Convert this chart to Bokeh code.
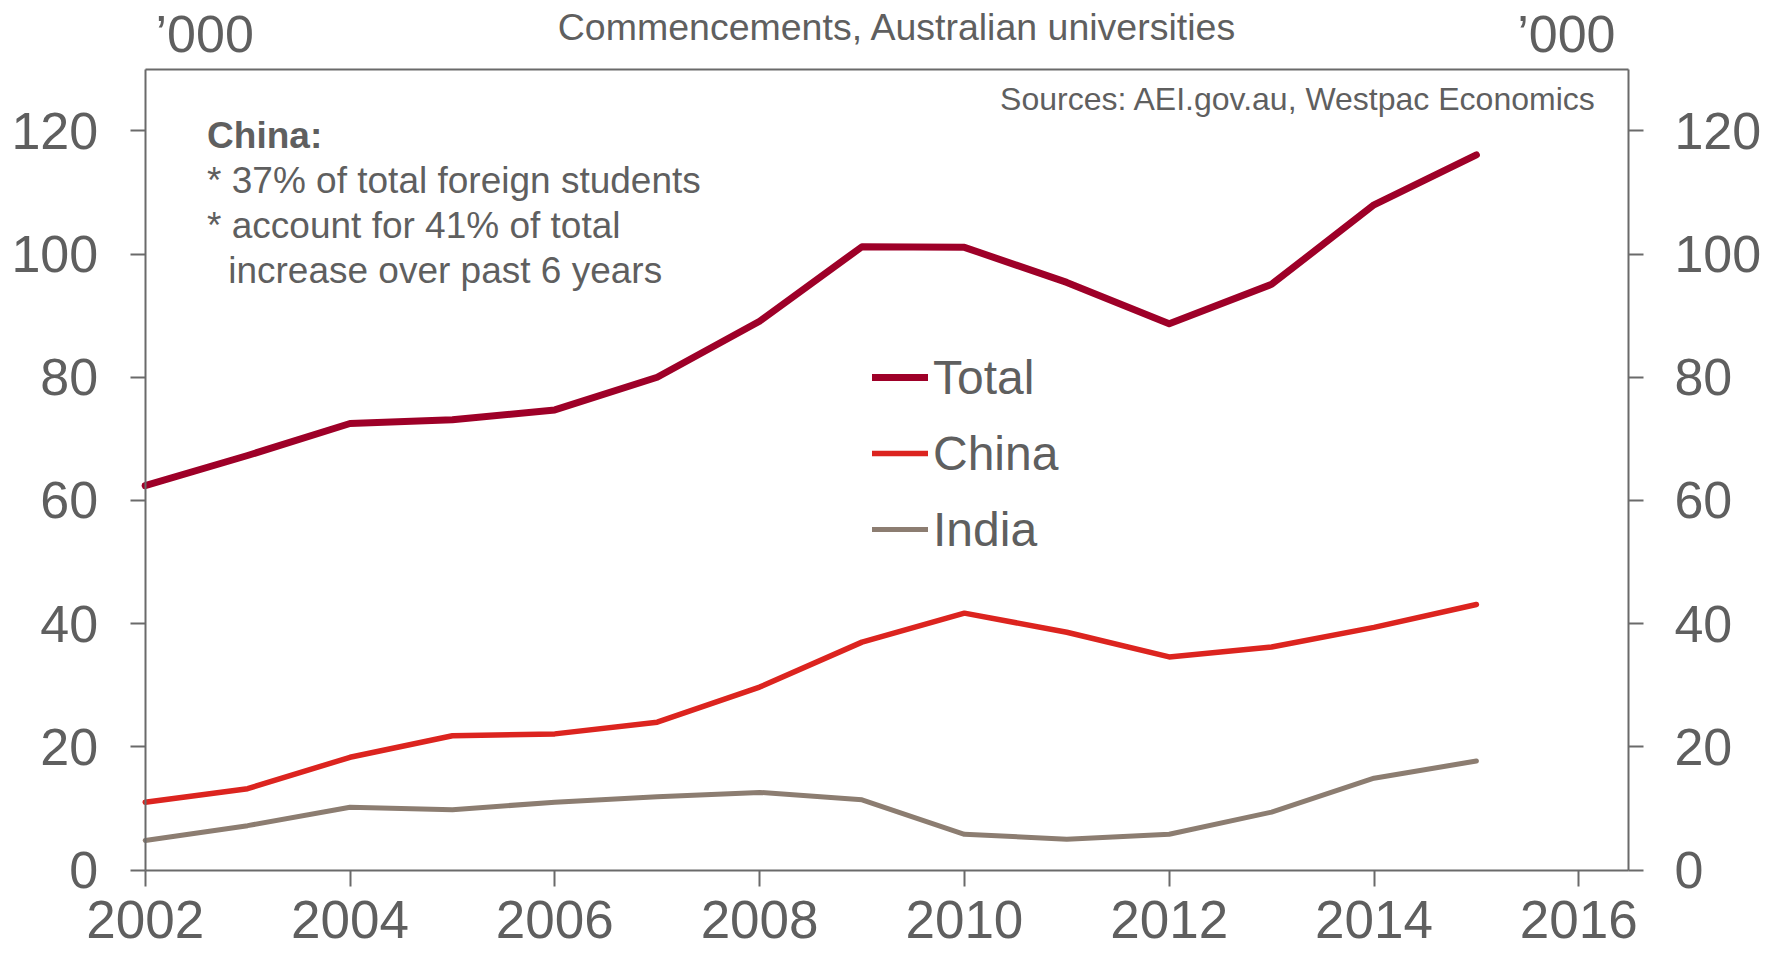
from bokeh.plotting import figure
from bokeh.models import Range1d, LinearAxis, FixedTicker, Label, Legend, LegendItem, ColumnDataSource
from bokeh.embed import file_html
from bokeh.resources import INLINE

# ---- data (thousands of commencements) ----
years = [2002, 2003, 2004, 2005, 2006, 2007, 2008, 2009, 2010, 2011, 2012, 2013, 2014, 2015]
total = [62.4, 67.3, 72.5, 73.1, 74.7, 80.0, 89.1, 101.2, 101.1, 95.4, 88.7, 95.1, 108.0, 116.1]
china = [11.0, 13.2, 18.3, 21.8, 22.1, 24.0, 29.7, 37.0, 41.7, 38.6, 34.6, 36.2, 39.4, 43.1]
india = [4.8, 7.2, 10.2, 9.8, 11.0, 11.9, 12.6, 11.4, 5.8, 5.0, 5.8, 9.4, 14.9, 17.7]
series_names = ["Total", "China", "India"]
x_ticks = [2002, 2004, 2006, 2008, 2010, 2012, 2014, 2016]
y_ticks = [0, 20, 40, 60, 80, 100, 120]
x_bounds = (2002, 2016.485)
y_bounds = (0, 130)
title_text = "Commencements, Australian universities"
source_text = "Sources: AEI.gov.au, Westpac Economics"
unit_text = "\u2019000"
note_lines = ["China:", "* 37% of total foreign students", "* account for 41% of total", "increase over past 6 years"]

FONT = "Liberation Sans"
TXT = "#5f5f5f"
AX = "#6a6a6a"
colors = ["#9e0028", "#dc241f", "#8c7d71"]
widths = [7, 5.5, 5]

W, H = 1765, 954
# page-pixel geometry of the chart box
PX0, PXPY = 144.7, 102.4     # x pixel of 2002, pixels per year
PY0, PYPU = 869.5, 6.159     # y pixel of 0, pixels per unit

def xd(px):
    return x_bounds[0] + (px - PX0) / PXPY

def yd(py):
    return (PY0 - py) / PYPU

src = ColumnDataSource(dict(year=years, Total=total, China=china, India=india))

p = figure(width=W, height=H, x_range=Range1d(xd(0), xd(W)), y_range=Range1d(yd(H), yd(0)),
           output_backend="svg", toolbar_location=None,
           x_axis_location=None, y_axis_location=None,
           min_border_left=0, min_border_right=0, min_border_top=0, min_border_bottom=0)
p.grid.visible = False
p.background_fill_color = "white"
p.border_fill_color = "white"
p.outline_line_color = None

def base_axis(ax):
    ax.minor_tick_line_color = None
    ax.axis_line_color = AX
    ax.axis_line_width = 2
    ax.major_tick_line_color = AX
    ax.major_tick_line_width = 2
    ax.major_tick_in = 0
    ax.major_label_text_font = FONT
    ax.major_label_text_color = TXT

xa = LinearAxis(fixed_location=0, bounds=x_bounds, ticker=FixedTicker(ticks=x_ticks))
base_axis(xa)
xa.major_tick_out = 16
xa.major_label_text_font_size = "53px"
xa.major_label_standoff = 15
p.add_layout(xa, "below")

top = LinearAxis(fixed_location=y_bounds[1], bounds=x_bounds, ticker=FixedTicker(ticks=[]))
base_axis(top)
top.major_label_text_font_size = "0px"
p.add_layout(top, "above")

ya = LinearAxis(fixed_location=x_bounds[0], bounds=y_bounds, ticker=FixedTicker(ticks=y_ticks))
base_axis(ya)
ya.major_tick_out = 15
ya.major_label_text_font_size = "52px"
ya.major_label_standoff = 32
p.add_layout(ya, "left")

ra = LinearAxis(fixed_location=x_bounds[1], bounds=y_bounds, ticker=FixedTicker(ticks=y_ticks))
base_axis(ra)
ra.major_tick_out = 15
ra.major_label_text_font_size = "52px"
ra.major_label_standoff = 31
p.add_layout(ra, "right")

renderers = []
for name, c, w in zip(series_names, colors, widths):
    r = p.line("year", name, source=src, line_color=c, line_width=w, line_cap="round", line_join="round")
    renderers.append(r)

legend = Legend(items=[LegendItem(label=n, renderers=[r]) for n, r in zip(series_names, renderers)],
                location=(872, 397), glyph_width=56, glyph_height=56, label_standoff=5, spacing=20,
                padding=0, margin=0, border_line_alpha=0, background_fill_alpha=0,
                label_text_font=FONT, label_text_font_size="48px", label_text_color=TXT)
p.add_layout(legend)

def lab(text, px, py, size, align="left", bold=False):
    # py is the visual baseline in page pixels; Bokeh's alphabetic box sits ~0.35em lower
    p.add_layout(Label(x=xd(px), y=yd(py - 0.35 * size), text=text, text_font=FONT,
                       text_font_size=f"{size}px", text_color=TXT,
                       text_align=align, text_baseline="alphabetic",
                       text_font_style="bold" if bold else "normal"))

lab(title_text, 897, 39.3, 37.5, "center")
lab(unit_text, 155, 51.7, 52, "left")
lab(unit_text, 1615, 51.7, 52, "right")
lab(source_text, 1596, 110, 32, "right")
lab(note_lines[0], 206.6, 148, 37, bold=True)
lab(note_lines[1], 206.6, 193, 37)
lab(note_lines[2], 206.6, 238, 37)
lab(note_lines[3], 227.7, 283, 37)

open("out.html", "w").write(file_html(p, INLINE))
